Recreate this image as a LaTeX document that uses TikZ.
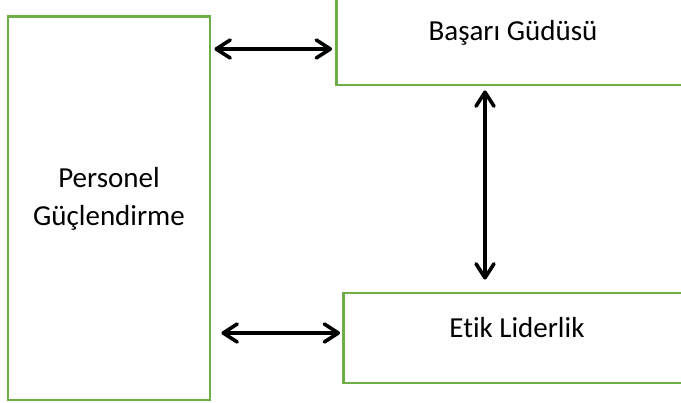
\documentclass[tikz,border=0pt]{standalone}
\usepackage{fontspec}
\setmainfont[Ligatures=NoCommon]{Carlito}
\usetikzlibrary{arrows.meta}
\definecolor{boxgreen}{HTML}{70AD47}
\begin{document}
\begin{tikzpicture}[x=1pt,y=-1pt,
  box/.style={draw=boxgreen,line width=2.8pt,rectangle,inner sep=0pt},
  lbl/.style={font=\fontsize{29}{38}\selectfont,align=center,inner sep=0pt},
  arr/.style={line width=3.6pt,line cap=round,{Straight Barb[length=14pt,width=18pt,line cap=round,line join=round]}-{Straight Barb[length=14pt,width=18pt,line cap=round,line join=round]}}]
\useasboundingbox (0,0) rectangle (681,403);
\clip (0,0) rectangle (681,403);
\fill[white] (0,0) rectangle (681,403);
\node[box,minimum width=202pt,minimum height=383.3pt] (P) at (109,208.3) {};
\node[box,minimum width=353.5pt,minimum height=87pt] (B) at (513.25,41.5) {};
\node[box,minimum width=346.5pt,minimum height=90pt] (E) at (516.75,338) {};
\node[lbl] (Pt) at (109,199) {Personel\\Güçlendirme};
\node[lbl] (Bt) at (513,33) {Başarı Güdüsü};
\node[lbl] (Et) at (517,328) {Etik Liderlik};
\draw[arr,shorten <=3pt,shorten >=3pt] (P.east |- 0,49) -- (B.west |- 0,49);
\draw[arr,shorten <=10pt,shorten >=2pt] (P.east |- 0,333) -- (E.west |- 0,333);
\draw[arr,shorten <=4pt,shorten >=12pt] (B.south -| 485,0) -- (E.north -| 485,0);
\end{tikzpicture}
\end{document}
